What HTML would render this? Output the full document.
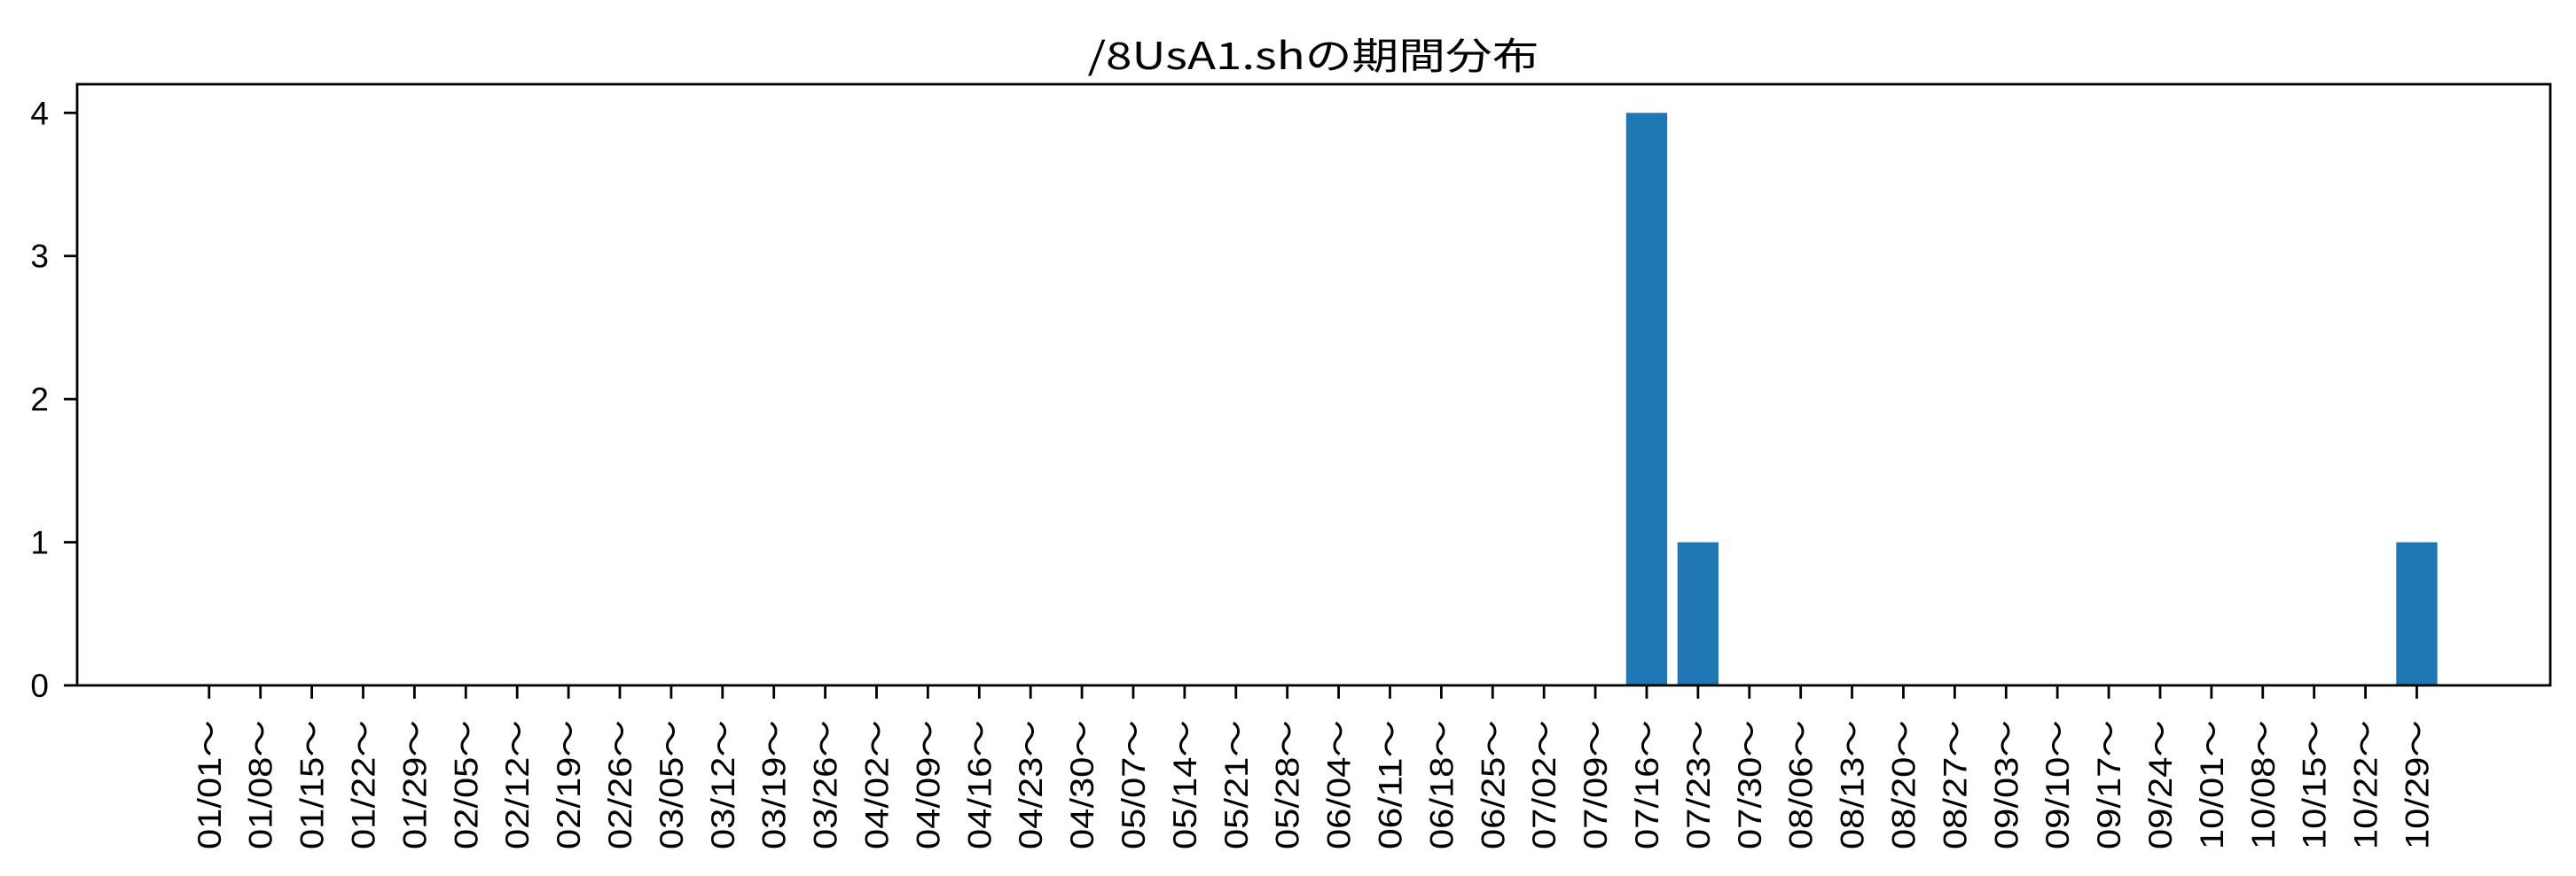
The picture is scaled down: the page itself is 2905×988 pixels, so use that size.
<!DOCTYPE html>
<html><head><meta charset="utf-8">
<style>
html,body{margin:0;padding:0;background:#fff;}
svg{display:block;}
text{font-family:"Liberation Sans","Noto Sans CJK JP",sans-serif;fill:#000;}
</style></head>
<body>
<svg id="chart" width="2905" height="988" viewBox="0 0 2905 988" xmlns="http://www.w3.org/2000/svg">
<rect x="0" y="0" width="2905" height="988" fill="#fff"/>
<text x="1481" y="78" text-anchor="middle" font-size="42" textLength="509" lengthAdjust="spacingAndGlyphs" style="font-family:'Noto Sans CJK JP',sans-serif">/8UsA1.shの期間分布</text>
<g id="bars"></g>
<g id="xticks"></g>
<g id="yticks"></g>
<rect x="87" y="95" width="2789" height="678" fill="none" stroke="#000" stroke-width="2.8"/>
</svg>
<script>
const categories = ["01/01～","01/08～","01/15～","01/22～","01/29～","02/05～","02/12～","02/19～","02/26～","03/05～","03/12～","03/19～","03/26～","04/02～","04/09～","04/16～","04/23～","04/30～","05/07～","05/14～","05/21～","05/28～","06/04～","06/11～","06/18～","06/25～","07/02～","07/09～","07/16～","07/23～","07/30～","08/06～","08/13～","08/20～","08/27～","09/03～","09/10～","09/17～","09/24～","10/01～","10/08～","10/15～","10/22～","10/29～"];
const counts = [0,0,0,0,0,0,0,0,0,0,0,0,0,0,0,0,0,0,0,0,0,0,0,0,0,0,0,0,4,1,0,0,0,0,0,0,0,0,0,0,0,0,0,1];
const yTicks = [0,1,2,3,4];

const NS = "http://www.w3.org/2000/svg";
const plotLeft = 87, plotRight = 2876, plotTop = 95, plotBottom = 773;
const yMax = 4.2;
const xMin = -2.57, xMax = categories.length - 1 + 2.6;
function xScale(i){ return plotLeft + (i - xMin) / (xMax - xMin) * (plotRight - plotLeft); }
function yScale(v){ return plotBottom - v / yMax * (plotBottom - plotTop); }
const step = xScale(1) - xScale(0);
const barW = step * 0.8;

const barsG = document.getElementById('bars');
const xG = document.getElementById('xticks');
const yG = document.getElementById('yticks');

categories.forEach((c, i) => {
  const v = counts[i];
  const cx = xScale(i);
  if (v > 0) {
    const r = document.createElementNS(NS, 'rect');
    r.setAttribute('x', cx - barW / 2);
    r.setAttribute('y', yScale(v));
    r.setAttribute('width', barW);
    r.setAttribute('height', yScale(0) - yScale(v));
    r.setAttribute('fill', '#1f77b4');
    
    
    barsG.appendChild(r);
  }
  const t = document.createElementNS(NS, 'line');
  t.setAttribute('x1', cx); t.setAttribute('x2', cx);
  t.setAttribute('y1', plotBottom); t.setAttribute('y2', plotBottom + 15);
  t.setAttribute('stroke', '#000'); t.setAttribute('stroke-width', '2.8');
  
  
  xG.appendChild(t);
  const lb = document.createElementNS(NS, 'text');
  lb.setAttribute('transform', 'translate(' + (cx + 13) + ',812) rotate(-90)');
  lb.setAttribute('text-anchor', 'end');
  lb.setAttribute('font-size', '37');
  lb.setAttribute('textLength', '146');
  lb.setAttribute('lengthAdjust', 'spacingAndGlyphs');
  lb.textContent = c;
  
  
  xG.appendChild(lb);
});

yTicks.forEach(v => {
  const y = yScale(v);
  const t = document.createElementNS(NS, 'line');
  t.setAttribute('x1', plotLeft - 15); t.setAttribute('x2', plotLeft);
  t.setAttribute('y1', y); t.setAttribute('y2', y);
  t.setAttribute('stroke', '#000'); t.setAttribute('stroke-width', '2.8');
  
  
  yG.appendChild(t);
  const lb = document.createElementNS(NS, 'text');
  lb.setAttribute('x', 55);
  lb.setAttribute('y', y + 13);
  lb.setAttribute('text-anchor', 'end');
  lb.setAttribute('font-size', '37');
  lb.textContent = String(v);
  
  
  yG.appendChild(lb);
});
</script>
</body></html>
